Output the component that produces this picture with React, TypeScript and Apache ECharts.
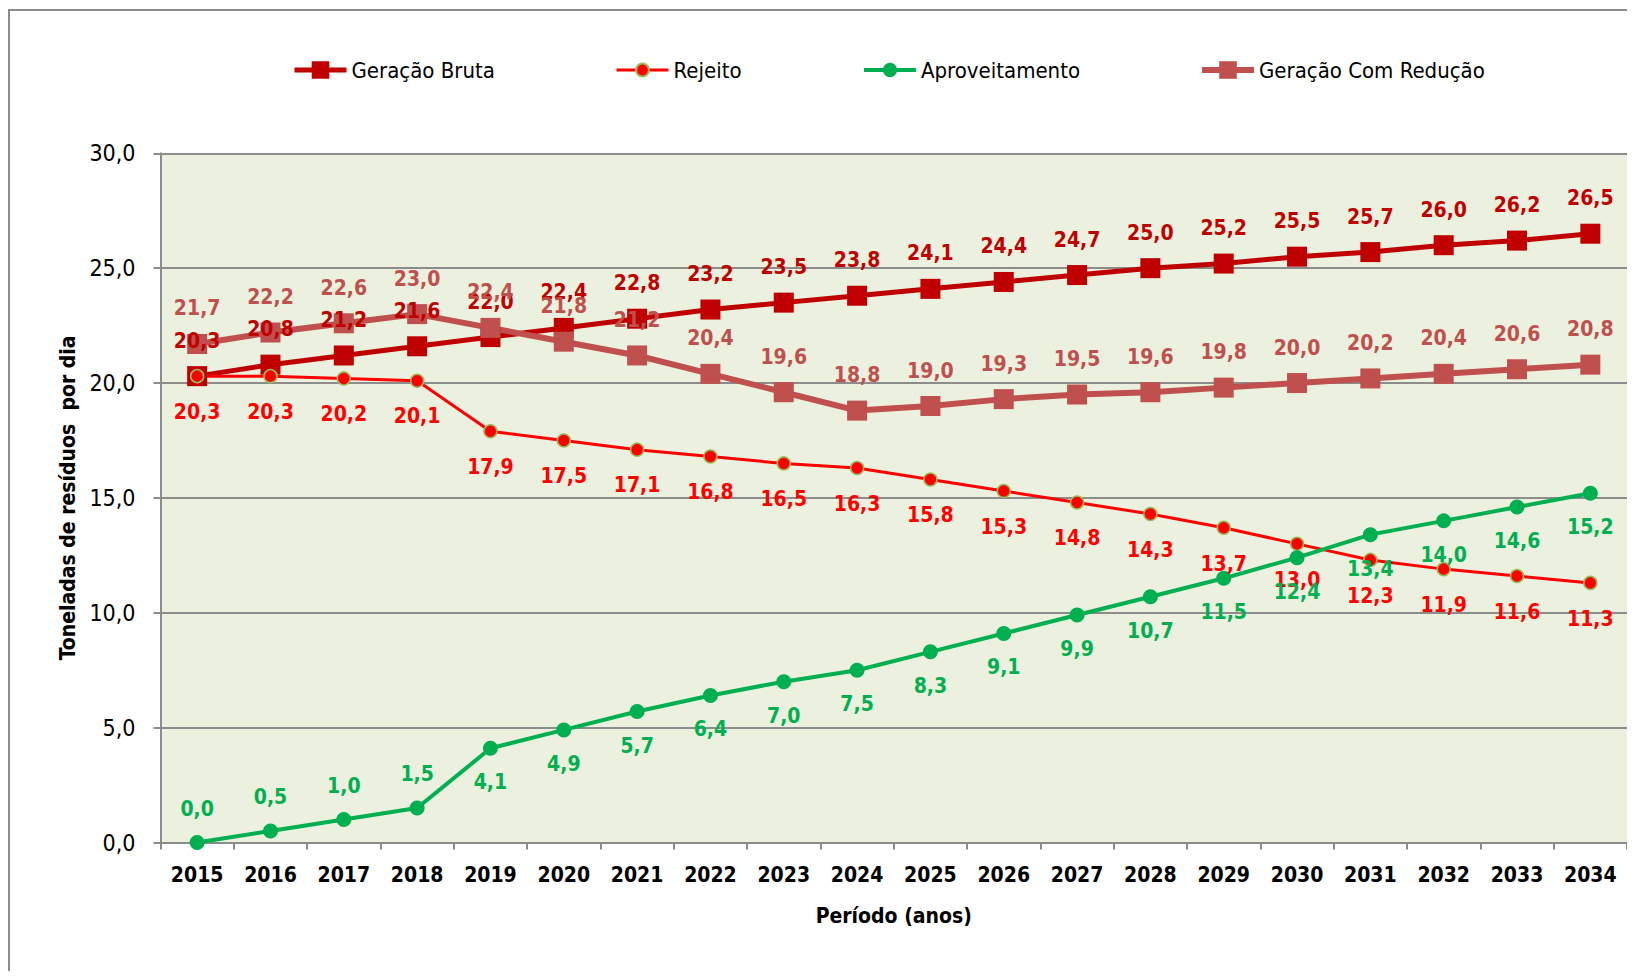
import React, { useEffect, useRef } from "react";
import * as echarts from "echarts";

const years = ["2015","2016","2017","2018","2019","2020","2021","2022","2023","2024","2025","2026","2027","2028","2029","2030","2031","2032","2033","2034"];
const geracaoBruta = [20.3,20.8,21.2,21.6,22.0,22.4,22.8,23.2,23.5,23.8,24.1,24.4,24.7,25.0,25.2,25.5,25.7,26.0,26.2,26.5];
const rejeito = [20.3,20.3,20.2,20.1,17.9,17.5,17.1,16.8,16.5,16.3,15.8,15.3,14.8,14.3,13.7,13.0,12.3,11.9,11.6,11.3];
const aproveitamento = [0.0,0.5,1.0,1.5,4.1,4.9,5.7,6.4,7.0,7.5,8.3,9.1,9.9,10.7,11.5,12.4,13.4,14.0,14.6,15.2];
const geracaoComReducao = [21.7,22.2,22.6,23.0,22.4,21.8,21.2,20.4,19.6,18.8,19.0,19.3,19.5,19.6,19.8,20.0,20.2,20.4,20.6,20.8];
const aproveitamentoLabelAbove = 4; // first points labelled above the line

const FONT = "'Liberation Sans Narrow', 'Arial Narrow', 'DejaVu Sans Condensed', sans-serif";
const fmt = (v: number) => v.toFixed(1).replace(".", ",");

export default function App() {
  const ref = useRef<HTMLDivElement>(null);
  useEffect(() => {
    if (!ref.current) return;
    const chart = echarts.init(ref.current, null, { renderer: "svg" });
    const labelBase = (color: string, position: string, distance: number) => ({
      show: true,
      position,
      distance,
      color,
      fontFamily: FONT,
      fontSize: 21,
      fontWeight: "bold",
      formatter: (p: any) => fmt(Number(p.value)),
    });
    const legendItem = (name: string, left: number, h: number, lw: number) => ({
      left,
      top: 62 - 11,
      padding: 0,
      itemWidth: 52,
      itemHeight: h,
      lineStyle: { width: lw },
      textStyle: { fontFamily: FONT, fontSize: 22, color: "#000" },
      data: [name],
    });
    chart.setOption({
      animation: false,
      backgroundColor: "#fff",
      graphic: [
        {
          type: "rect",
          shape: { x: 1, y: 2, width: 3000, height: 3000 },
          style: { fill: "none", stroke: "#8c8c8c", lineWidth: 2 },
          silent: true,
        },
      ],
      legend: [
        legendItem("Geração Bruta", 284, 22, 5),
        legendItem("Rejeito", 607, 16, 3),
        legendItem("Aproveitamento", 854, 18, 4),
        legendItem("Geração Com Redução", 1191, 22, 6),
      ],
      grid: { left: 152.5, right: 0, top: 145.3, bottom: 128.5, show: true, backgroundColor: "#EBF1DE", borderWidth: 0 },
      xAxis: {
        type: "category",
        data: years,
        boundaryGap: true,
        name: "Período (anos)",
        nameLocation: "middle",
        nameGap: 63,
        nameTextStyle: { fontFamily: FONT, fontSize: 21, fontWeight: "bold", color: "#000" },
        axisLine: { lineStyle: { color: "#8c8c8c", width: 2 } },
        axisTick: { show: true, interval: 0, alignWithLabel: false, length: 7, lineStyle: { color: "#8c8c8c", width: 2 } },
        axisLabel: { interval: 0, margin: 22, fontFamily: FONT, fontSize: 21, fontWeight: "bold", color: "#000" },
        splitLine: { show: false },
      },
      yAxis: {
        type: "value",
        min: 0,
        max: 30,
        interval: 5,
        name: "Toneladas de resíduos  por dia",
        nameLocation: "middle",
        nameGap: 79,
        nameTextStyle: { fontFamily: FONT, fontSize: 21, fontWeight: "bold", color: "#000" },
        axisLine: { show: true, lineStyle: { color: "#8c8c8c", width: 2 } },
        axisTick: { show: true, length: 7, lineStyle: { color: "#8c8c8c", width: 2 } },
        axisLabel: { margin: 25, fontFamily: FONT, fontSize: 23, color: "#000", formatter: (v: number) => fmt(v) },
        splitLine: { show: true, lineStyle: { color: "#8c8c8c", width: 2 } },
      },
      series: [
        {
          name: "Geração Bruta",
          type: "line",
          data: geracaoBruta,
          symbol: "rect",
          symbolSize: 20,
          lineStyle: { color: "#C00000", width: 5 },
          itemStyle: { color: "#C00000" },
          label: labelBase("#C00000", "top", 15),
        },
        {
          name: "Rejeito",
          type: "line",
          data: rejeito,
          symbol: "circle",
          symbolSize: 13,
          lineStyle: { color: "#FF0000", width: 3 },
          itemStyle: { color: "#FF0000", borderColor: "#9BBB59", borderWidth: 1.5 },
          label: labelBase("#FF0000", "bottom", 18),
        },
        {
          name: "Aproveitamento",
          type: "line",
          data: aproveitamento.map((v, i) => ({
            value: v,
            label: { position: i < aproveitamentoLabelAbove ? "top" : "bottom" },
          })),
          symbol: "circle",
          symbolSize: 15,
          lineStyle: { color: "#00B050", width: 4 },
          itemStyle: { color: "#00B050" },
          label: labelBase("#00B050", "bottom", 16),
        },
        {
          name: "Geração Com Redução",
          type: "line",
          data: geracaoComReducao,
          symbol: "rect",
          symbolSize: 20,
          lineStyle: { color: "#C0504D", width: 6 },
          itemStyle: { color: "#C0504D" },
          label: labelBase("#C0504D", "top", 15),
        },
      ],
    });
    return () => chart.dispose();
  }, []);
  return <div ref={ref} style={{ width: 1619, height: 963 }} />;
}
